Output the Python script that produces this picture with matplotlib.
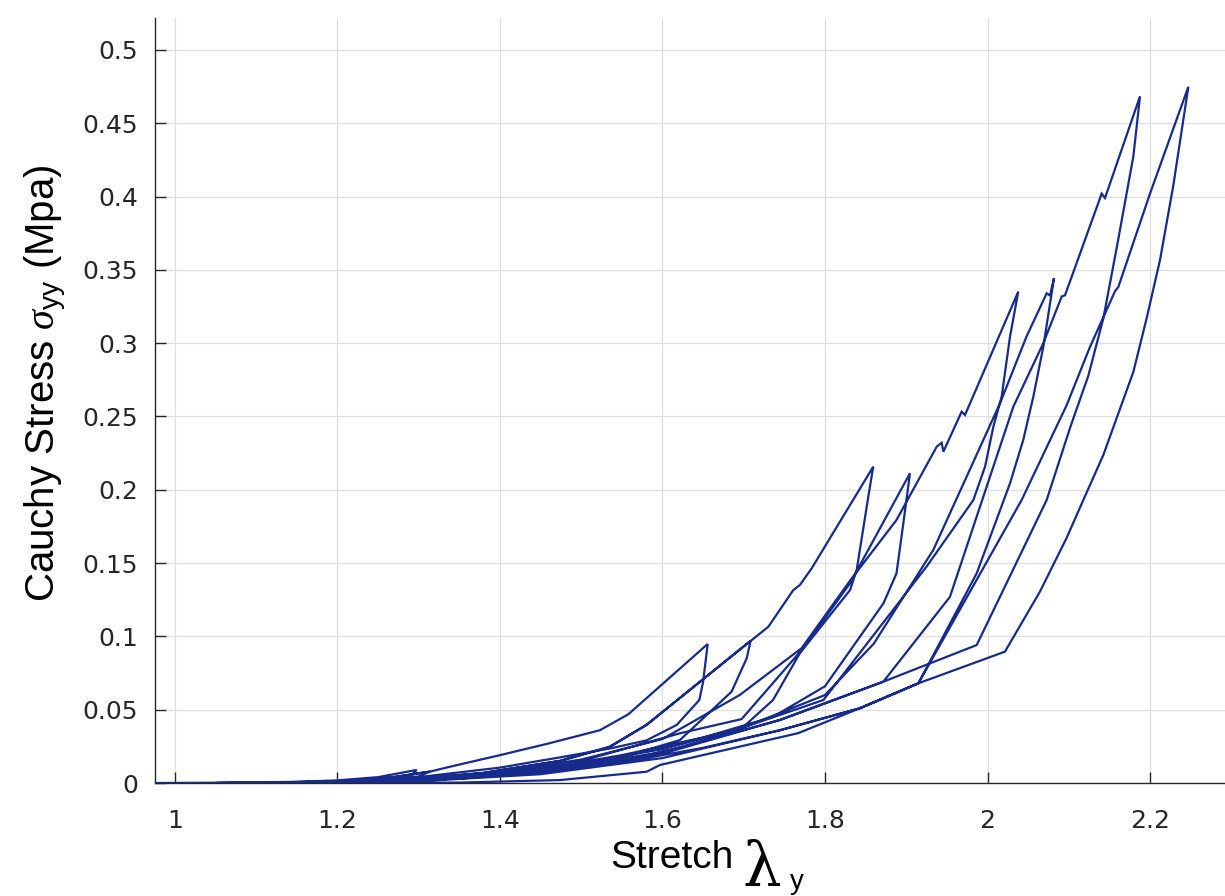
import numpy as np
import matplotlib
matplotlib.use("Agg")
import matplotlib.pyplot as plt

plt.rcParams['font.family'] = ['Liberation Sans', 'DejaVu Sans']
plt.rcParams['mathtext.fontset'] = 'custom'
plt.rcParams['mathtext.rm'] = 'Liberation Sans'
plt.rcParams['mathtext.sf'] = 'Liberation Sans'
plt.rcParams['mathtext.it'] = 'Liberation Serif:italic'

# cyclic test, two cycles per stretch level (load then unload)
a1_x = [0.977, 1.05, 1.15, 1.20, 1.25, 1.2975, 1.29, 1.25, 1.15, 1.05]
a1_y = [0.0, 0.0002, 0.0008, 0.0018, 0.0040, 0.0089, 0.0050, 0.0018, 0.0003, 0.0]

a2_x = [1.10, 1.20, 1.27, 1.314, 1.30, 1.25, 1.15]
a2_y = [0.0002, 0.0012, 0.0040, 0.0078, 0.0045, 0.0018, 0.0003]

b1_x = [1.20, 1.27, 1.314, 1.3385, 1.40, 1.46, 1.523, 1.558, 1.6556,
        1.650, 1.6453, 1.6175, 1.58, 1.535, 1.474, 1.40, 1.30, 1.20, 1.10]
b1_y = [0.0010, 0.0042, 0.0078, 0.0111, 0.0190, 0.0270, 0.0360, 0.0469, 0.0948,
        0.0691, 0.0566, 0.0396, 0.0290, 0.0235, 0.0175, 0.0105, 0.0040, 0.0008, 0.0001]

b2_x = [1.20, 1.30, 1.38, 1.474, 1.535, 1.5805, 1.7085,
        1.7036, 1.685, 1.6215, 1.55, 1.45, 1.35, 1.20, 1.10]
b2_y = [0.0006, 0.0030, 0.0070, 0.0150, 0.0245, 0.0396, 0.0971,
        0.0850, 0.0623, 0.0293, 0.0175, 0.0085, 0.0035, 0.0004, 0.0]

c1_x = [1.20, 1.30, 1.38, 1.474, 1.535, 1.5805, 1.7098, 1.7303, 1.761, 1.769, 1.7836, 1.8594,
        1.8533, 1.839, 1.8308, 1.769, 1.736, 1.695, 1.62, 1.55, 1.45, 1.35, 1.20, 1.10]
c1_y = [0.0005, 0.0028, 0.0068, 0.0152, 0.0248, 0.0398, 0.0975, 0.1066, 0.1316, 0.1350, 0.1464, 0.2158,
        0.1953, 0.1453, 0.1316, 0.0885, 0.0566, 0.0360, 0.0240, 0.0150, 0.0075, 0.0030, 0.0005, 0.0]

c2_x = [1.20, 1.30, 1.40, 1.50, 1.6215, 1.6974, 1.7713, 1.8308, 1.9046,
        1.8964, 1.888, 1.872, 1.80, 1.7364, 1.65, 1.55, 1.45, 1.35, 1.20, 1.10]
c2_y = [0.0004, 0.0022, 0.0070, 0.0150, 0.0339, 0.0436, 0.0907, 0.1362, 0.2113,
        0.1771, 0.1430, 0.1226, 0.0660, 0.0452, 0.0310, 0.0190, 0.0095, 0.0040, 0.0005, 0.0]

d1_x = [1.20, 1.30, 1.40, 1.50, 1.60, 1.695, 1.7713, 1.8308, 1.888, 1.9375, 1.9436, 1.9457,
        1.9682, 1.9723, 2.0379,
        2.0277, 2.0174, 2.0072, 1.997, 1.9826, 1.925, 1.798, 1.70, 1.60, 1.50, 1.40, 1.30, 1.15]
d1_y = [0.0005, 0.0025, 0.0075, 0.0160, 0.0300, 0.0600, 0.0920, 0.1380, 0.1794, 0.2294, 0.2321, 0.2260,
        0.2533, 0.2510, 0.3352,
        0.3045, 0.2635, 0.2430, 0.2158, 0.1930, 0.1476, 0.0566, 0.0380, 0.0240, 0.0130, 0.0060, 0.0020, 0.0002]

d2_x = [1.15, 1.30, 1.45, 1.60, 1.70, 1.80, 1.86, 1.9333, 2.0154, 2.048, 2.0728, 2.0769, 2.0818,
        2.0687, 2.0564, 2.044, 2.0277, 1.9867, 1.9149, 1.843, 1.7446, 1.65, 1.55, 1.45, 1.30, 1.15]
d2_y = [0.0002, 0.0018, 0.0090, 0.0230, 0.0380, 0.0600, 0.0950, 0.1590, 0.2590, 0.3045, 0.3340, 0.3325, 0.3443,
        0.2976, 0.2635, 0.2340, 0.2044, 0.1430, 0.0680, 0.0510, 0.0360, 0.0240, 0.0140, 0.0070, 0.0015, 0.0001]

e1_x = [1.15, 1.30, 1.45, 1.60, 1.7446, 1.8718, 1.9538, 2.0318, 2.0687, 2.0913, 2.0954, 2.1405,
        2.1446, 2.1877,
        2.1795, 2.159, 2.1426, 2.124, 2.1024, 2.0728, 1.9867, 1.8718, 1.7446, 1.60, 1.45, 1.30, 1.15]
e1_y = [0.0001, 0.0016, 0.0080, 0.0210, 0.0430, 0.0691, 0.1270, 0.2567, 0.3000, 0.3318, 0.3327, 0.4020,
        0.3990, 0.4684,
        0.4274, 0.3650, 0.3170, 0.2776, 0.2436, 0.1930, 0.0941, 0.0691, 0.0430, 0.0200, 0.0075, 0.0015, 0.0001]

e2_x = [1.15, 1.30, 1.45, 1.60, 1.7446, 1.843, 1.9149, 2.042, 2.0975, 2.126, 2.157, 2.161, 2.20, 2.2472,
        2.2287, 2.2123, 2.1959, 2.1795, 2.1426, 2.1179, 2.0975, 2.0646, 2.0215, 1.9149, 1.843,
        1.767, 1.597, 1.5805, 1.474, 1.35, 1.20]
e2_y = [0.0001, 0.0012, 0.0060, 0.0170, 0.0360, 0.0510, 0.0680, 0.1930, 0.2578, 0.2973, 0.3355, 0.3383,
        0.4020, 0.4749,
        0.4076, 0.3567, 0.3171, 0.2804, 0.2238, 0.1930, 0.1673, 0.1306, 0.0896, 0.0680, 0.0510,
        0.0340, 0.0123, 0.0077, 0.0020, 0.0003, 0.0]

x_ticks = [1.0, 1.2, 1.4, 1.6, 1.8, 2.0, 2.2]
x_tick_labels = ['1', '1.2', '1.4', '1.6', '1.8', '2', '2.2']
y_ticks = [0, 0.05, 0.1, 0.15, 0.2, 0.25, 0.3, 0.35, 0.4, 0.45, 0.5]
y_tick_labels = ['0', '0.05', '0.1', '0.15', '0.2', '0.25', '0.3', '0.35', '0.4', '0.45', '0.5']

stretch = np.concatenate([a1_x, a2_x, b1_x, b2_x, c1_x, c2_x, d1_x, d2_x, e1_x, e2_x])
stress = np.concatenate([a1_y, a2_y, b1_y, b2_y, c1_y, c2_y, d1_y, d2_y, e1_y, e2_y])

fig = plt.figure(figsize=(12.25, 8.96), dpi=100)
ax = fig.add_axes([155 / 1225, 113 / 896, 1070 / 1225, 765 / 896])

ax.plot(stretch, stress, color='#172b8c', lw=1.6, solid_joinstyle='miter', zorder=3)

ax.set_xlim(0.9754, 2.2923)
ax.set_ylim(0, 0.5218)
ax.set_xticks(x_ticks)
ax.set_xticklabels(x_tick_labels)
ax.set_yticks(y_ticks)
ax.set_yticklabels(y_tick_labels)

ax.grid(True, color='#dfdfdf', lw=0.9, zorder=0)
ax.set_axisbelow(True)
for side in ['top', 'right']:
    ax.spines[side].set_visible(False)
for side in ['left', 'bottom']:
    ax.spines[side].set_color('#262626')
    ax.spines[side].set_linewidth(1.0)

ax.tick_params(direction='in', length=8, width=1.0, color='#262626',
               labelsize=18, labelcolor='#262626')
for lab in ax.get_xticklabels() + ax.get_yticklabels():
    lab.set_family('DejaVu Sans')
ax.tick_params(axis='x', pad=19)
ax.tick_params(axis='y', pad=12)

# x label: "Stretch" plus a large lambda with a small y subscript
ax.set_xlabel('Stretch', fontsize=28, color='black', ha='left', va='baseline')
ax.xaxis.set_label_coords(0.4252, -0.1111)
ax.text(0.549, -0.1333, '\u03bb', fontsize=44, family='DejaVu Serif',
        transform=ax.transAxes, ha='left', va='baseline', clip_on=False)
ax.text(0.5935, -0.1386, 'y', fontsize=20, transform=ax.transAxes,
        ha='left', va='baseline', clip_on=False)

ax.set_ylabel(r'Cauchy Stress $\sigma_{\mathrm{yy}}$ (Mpa)', fontsize=29, color='black', va='center')
ax.yaxis.set_label_coords(-0.102, 0.523)

fig.savefig('out.png', dpi=100)
